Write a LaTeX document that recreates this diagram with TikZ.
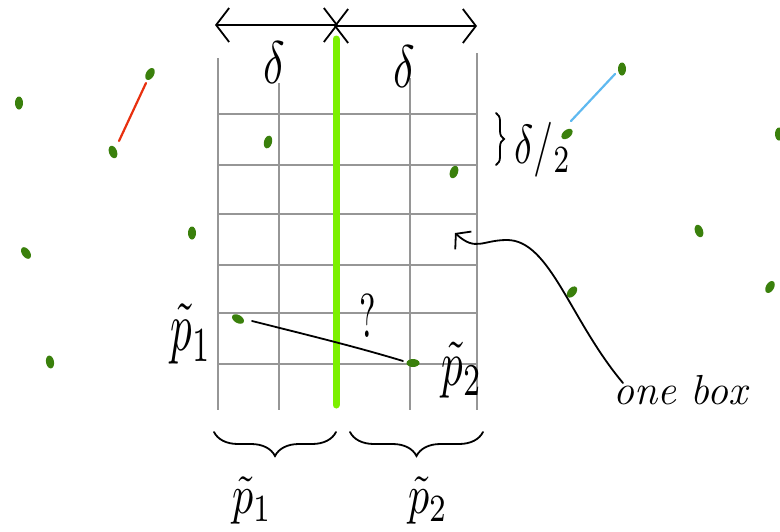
\documentclass[tikz,border=0pt]{standalone}
\usepackage{graphicx}
\usetikzlibrary{arrows.meta,decorations.pathreplacing,shapes.geometric}
\definecolor{dotgreen}{RGB}{58,128,12}
\definecolor{lime}{RGB}{124,240,0}
\definecolor{gridgray}{RGB}{150,150,150}
\definecolor{redseg}{RGB}{232,48,15}
\definecolor{blueseg}{RGB}{95,185,240}
\begin{document}
\begin{tikzpicture}[x=1pt,y=-1pt,
  pt/.style={ellipse,fill=dotgreen,inner sep=0pt,minimum width=8pt,minimum height=13pt},
  gridline/.style={gridgray,line width=2.2pt},
  ink/.style={black,line width=1.8pt,line cap=round},
  lbl/.style={inner sep=0pt},
  bigbrace/.style={ink,decorate,decoration={brace,amplitude=24pt,mirror}}]
\useasboundingbox (0,0) rectangle (780,531);
% grid
\coordinate (v1t) at (218,58);  \coordinate (v1b) at (218,410);
\coordinate (v2t) at (279,83);  \coordinate (v2b) at (279,410);
\coordinate (v4t) at (410,78);  \coordinate (v4b) at (410,410);
\coordinate (v5t) at (477,53);  \coordinate (v5b) at (477,410);
\foreach \a/\b in {v1t/v1b,v2t/v2b,v4t/v4b,v5t/v5b} \draw[gridline] (\a) -- (\b);
\foreach \y [count=\i] in {114,165,214,265,313,364}{
  \coordinate (hl\i) at (218,\y); \coordinate (hr\i) at (478,\y);
  \draw[gridline] (hl\i) -- (hr\i);}
\coordinate (gt) at (336,39); \coordinate (gb) at (336,405);
\draw[lime,line width=7pt,line cap=round] (gt) -- (gb);
% top arrows
\coordinate (aL) at (215,25); \coordinate (aM1) at (338,25);
\coordinate (aM2) at (334,26); \coordinate (aR) at (477,26);
\draw[ink,{Straight Barb[length=13pt,width=34pt,line width=1.8pt]}-{Straight Barb[length=13pt,width=34pt,line width=1.8pt]}] (aL) -- (aM1);
\draw[ink,{Straight Barb[length=13pt,width=34pt,line width=1.8pt]}-{Straight Barb[length=13pt,width=34pt,line width=1.8pt]}] (aM2) -- (aR);
\node[lbl] (dl) at (274,63) {\scalebox{4.5}[6]{$\delta$}};
\node[lbl] (dr) at (404,67) {\scalebox{4.5}[6]{$\delta$}};
% delta/2 brace
\coordinate (sb1) at (496,113); \coordinate (sb2) at (496,165);
\draw[ink,decorate,decoration={brace,amplitude=8pt}] (sb1) -- (sb2);
\node[lbl,anchor=west] (dh) at (514,150) {\scalebox{4}[5.5]{$\delta/_{2}$}};
% dots
\foreach \n/\x/\y/\r in {d1/19/103/0,d2/150/74/-30,d3/113/152/20,d4/26/253/35,d5/50/362/10,
  d6/268/142/-15,d7/192/233/0,d8/238/319/60,d9/454/172/-20,d10/413/363/90,
  d11/622/69/0,d12/567/134/-50,d13/779/134/0,d14/699/231/20,d15/572/292/-40,d16/770/287/-30}
  \node[pt,rotate=\r] (\n) at (\x,\y) {};
% coloured segments
\coordinate (r1) at (119,141); \coordinate (r2) at (146,83);
\draw[redseg,line width=2.2pt,line cap=round] (r1) -- (r2);
\coordinate (b1) at (571,121); \coordinate (b2) at (615,74);
\draw[blueseg,line width=2.2pt,line cap=round] (b1) -- (b2);
% closest pair
\coordinate (c1) at (252,321); \coordinate (c2) at (403,361);
\draw[ink] (c1) .. controls (320,338) and (360,348) .. (c2);
\node[lbl] (q) at (368,316) {\scalebox{3.5}[6.2]{?}};
\node[lbl] (p1) at (191,334) {\scalebox{4.3}[7]{$\tilde{p}_{1}$}};
\node[lbl] (p2) at (462,370) {\scalebox{4.3}[6.5]{$\tilde{p}_{2}$}};
% bottom braces
\coordinate (bl1) at (214,432); \coordinate (bl2) at (336,432);
\coordinate (br1) at (350,432); \coordinate (br2) at (483,432);
\draw[bigbrace] (bl1) -- (bl2);
\draw[bigbrace] (br1) -- (br2);
\node[lbl] (P1) at (252,500) {\scalebox{4.2}[5.5]{$\tilde{p}_{1}$}};
\node[lbl] (P2) at (428,500) {\scalebox{4.2}[5.5]{$\tilde{p}_{2}$}};
% one box annotation
\node[anchor=west,inner sep=0pt,font=\fontsize{42}{46}\itshape] (ob) at (613,390) {one box};
\coordinate (cs) at (623,383);
\coordinate (ct) at (455,233);
\draw[ink,-{Straight Barb[length=10pt,width=24pt,line width=1.8pt]}] (cs) .. controls (570,320) and (550,240) .. (507,240) .. controls (482,240) and (476,252) .. (ct);
\end{tikzpicture}
\end{document}
